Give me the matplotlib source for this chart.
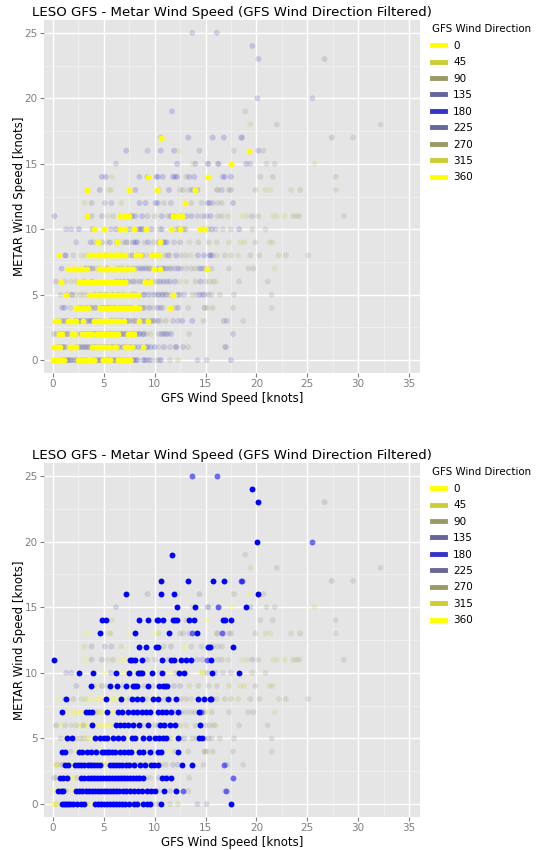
import matplotlib
matplotlib.use("Agg")
import matplotlib.pyplot as plt
import numpy as np
from matplotlib.colors import LinearSegmentedColormap
from matplotlib.lines import Line2D

title = "LESO GFS - Metar Wind Speed (GFS Wind Direction Filtered)"
x_label = "GFS Wind Speed [knots]"
y_label = "METAR Wind Speed [knots]"
legend_title = "GFS Wind Direction"
legend_dirs = [0, 45, 90, 135, 180, 225, 270, 315, 360]

# GFS wind speed values per METAR wind speed, wind from the north (~0/360 deg)
north = {
    0: [0.0, 0.2, 0.4, 0.6, 0.9, 1.1, 2.5, 2.7, 3.1, 3.4, 3.6, 4.0, 4.9, 5.2, 5.6, 6.4, 6.7, 7.0, 7.3, 7.6],
    1: [0.1, 0.4, 0.7, 1.7, 2.0, 2.3, 3.8, 4.2, 4.5, 4.8, 5.1, 5.5, 6.0, 6.2, 7.1, 7.4, 7.8, 8.9],
    2: [0.6, 0.9, 1.9, 2.1, 2.9, 3.2, 3.5, 3.8, 4.3, 4.6, 4.9, 5.2, 5.5, 5.8, 6.1, 6.4, 7.4, 7.7, 8.0],
    3: [0.2, 0.5, 1.5, 1.7, 2.0, 2.3, 3.0, 4.0, 4.4, 4.7, 5.0, 5.3, 5.6, 5.9, 6.2, 6.5, 7.0, 8.5, 9.3],
    4: [2.3, 2.5, 2.8, 3.1, 3.4, 4.6, 4.9, 5.2, 5.5, 5.8, 6.1, 6.4, 6.7, 7.0, 7.3, 7.6, 7.9, 8.2, 8.5, 11.5],
    5: [1.3, 3.6, 3.9, 4.2, 4.5, 4.8, 5.1, 5.4, 5.7, 6.0, 6.3, 6.6, 6.9, 7.2, 7.5, 7.8, 8.1, 8.4, 11.8],
    6: [0.75, 2.6, 2.9, 3.2, 3.5, 3.8, 4.1, 4.4, 4.7, 5.0, 5.3, 5.6, 5.9, 6.2, 6.5, 6.8, 7.1, 9.0, 9.5],
    7: [1.5, 2.0, 2.3, 2.6, 2.9, 3.3, 4.5, 4.8, 5.1, 5.4, 5.7, 6.0, 6.3, 6.6, 6.9, 7.2, 7.5, 7.9, 9.9, 10.5, 15.1],
    8: [0.6, 3.5, 4.0, 4.4, 4.7, 5.0, 5.3, 5.6, 5.9, 6.2, 6.5, 6.8, 7.1, 8.2, 8.6, 9.7, 10.1, 10.4],
    9: [4.4, 6.25, 10.5],
    10: [4.05, 5.0, 6.6, 7.1, 8.0, 9.1, 11.6, 12.5, 14.5, 14.9],
    11: [3.3, 6.6, 7.1, 7.5, 11.8, 12.3, 12.7],
    12: [13.0],
    13: [3.3, 7.5, 10.2, 14.0],
    14: [9.3, 15.2],
    15: [17.5],
    16: [19.3],
    17: [10.6],
}

# GFS wind speed values per METAR wind speed, wind from the south (~180 deg)
south = {
    0: [0.85, 1.1, 1.3, 1.5, 1.7, 2.0, 2.4, 2.8, 3.1, 4.1, 4.4, 4.7, 5.0, 5.3, 5.6, 5.9, 6.2, 6.5, 6.8, 7.1, 7.5, 8.0, 8.3, 8.9, 9.2, 9.5, 10.6, 17.5],
    1: [0.5, 0.8, 1.0, 2.3, 2.6, 2.9, 3.2, 3.5, 3.8, 4.1, 4.4, 4.7, 5.0, 5.3, 5.6, 5.9, 6.2, 6.5, 6.9, 7.2, 7.6, 8.0, 8.4, 8.8, 9.2, 9.6, 10.0, 10.9, 12.1],
    2: [0.7, 1.0, 1.4, 2.8, 3.1, 3.4, 3.7, 4.0, 4.3, 4.6, 4.9, 5.2, 5.5, 5.8, 6.1, 6.4, 6.7, 7.0, 7.3, 7.6, 7.9, 8.2, 8.5, 8.9, 10.7, 11.1, 11.6],
    3: [1.2, 1.5, 2.2, 2.5, 2.8, 3.1, 3.4, 3.7, 4.0, 4.3, 4.6, 5.6, 5.9, 6.2, 6.5, 6.8, 7.2, 7.5, 8.0, 8.6, 9.0, 9.6, 9.9, 10.3, 12.7, 13.7],
    4: [0.9, 1.15, 2.6, 2.9, 3.3, 3.7, 4.2, 4.8, 5.0, 5.3, 5.5, 5.8, 6.1, 6.6, 7.0, 7.4, 7.7, 8.5, 8.9, 9.5, 10.3, 10.6, 12.3],
    5: [1.35, 1.9, 4.1, 4.6, 5.0, 5.3, 5.9, 6.4, 6.9, 7.8, 8.1, 8.9, 9.4, 10.0, 10.4, 10.8, 11.1, 12.3, 14.4, 14.7],
    6: [3.8, 6.2, 6.6, 7.0, 7.4, 7.9, 8.5, 9.35, 10.55, 10.9, 11.5, 12.0, 14.5],
    7: [0.85, 3.2, 3.5, 3.8, 5.3, 6.4, 6.8, 7.4, 7.9, 8.3, 8.8, 9.1, 9.5, 10.3, 10.7, 11.1, 11.6, 12.3, 14.4],
    8: [1.25, 5.2, 6.7, 7.8, 8.3, 8.75, 9.8, 10.3, 11.3, 12.1, 14.25, 14.85, 15.4, 15.5],
    9: [3.7, 5.6, 6.3, 7.2, 7.9, 8.1, 8.3, 9.35, 10.4, 10.8, 11.0, 11.2],
    10: [2.55, 3.9, 6.2, 7.5, 8.4, 8.6, 8.8, 9.7, 10.7, 12.4, 12.9, 15.6, 18.3],
    11: [0.15, 7.6, 7.8, 8.1, 8.75, 10.7, 11.6, 11.9, 12.6, 13.1, 13.6, 15.5],
    12: [8.5, 9.1, 10.1, 10.3, 15.2, 15.4, 17.7],
    13: [4.6, 8.1, 11.4, 14.2],
    14: [4.8, 5.2, 8.5, 9.3, 10.2, 10.3, 10.8, 11.8, 12.0, 12.2, 13.4, 13.9, 16.7, 16.9, 17.5],
    15: [12.2, 14.0, 19.0],
    16: [7.2, 10.6, 11.9, 20.2],
    17: [10.6, 13.3, 15.7, 16.8],
    19: [11.7],
    20: [20.1],
    23: [20.2],
    24: [19.6],
}

# remaining observations: METAR speed -> (GFS speed, GFS direction)
other = {
    0: [(0.3, 80), (1.4, 100), (1.8, 110), (2.2, 130), (3.3, 90), (4.5, 110), (4.8, 100), (6.0, 100), (7.9, 140), (8.2, 220), (9.0, 230), (9.7, 100), (10.2, 110), (10.5, 220), (11.5, 100), (12.3, 80), (14.2, 220), (15.1, 220)],
    1: [(1.1, 220), (1.3, 100), (2.8, 100), (3.1, 110), (3.4, 100), (5.2, 90), (5.9, 80), (6.3, 100), (7.6, 110), (9.3, 140), (10.4, 100), (11.5, 230), (12.1, 230), (12.8, 205), (13.3, 100), (16.9, 100), (17.0, 155)],
    2: [(0.1, 100), (0.3, 110), (1.2, 90), (1.5, 100), (2.4, 100), (4.0, 110), (6.7, 120), (7.0, 100), (8.5, 130), (8.9, 140), (9.2, 100), (9.6, 80), (10.4, 230), (10.9, 225), (11.3, 140), (13.4, 100), (17.7, 155)],
    3: [(0.4, 100), (0.9, 140), (1.0, 80), (2.6, 100), (3.5, 110), (3.8, 130), (5.0, 80), (7.4, 70), (7.8, 90), (8.2, 100), (8.9, 110), (9.5, 70), (10.0, 80), (10.6, 100), (11.1, 110), (11.8, 140), (12.3, 220), (14.8, 100), (16.8, 205), (17.1, 220), (18.7, 100)],
    4: [(1.7, 100), (3.8, 80), (4.1, 90), (8.8, 100), (9.2, 80), (9.9, 110), (10.8, 100), (12.0, 100), (13.3, 110), (14.9, 220), (15.0, 80), (15.2, 70), (15.7, 100), (17.7, 100), (21.5, 90)],
    5: [(0.75, 100), (1.8, 90), (2.3, 80), (2.7, 100), (3.0, 80), (3.3, 70), (9.0, 140), (9.7, 100), (10.3, 110), (10.7, 130), (11.2, 90), (11.5, 100), (12.5, 140), (12.9, 220), (13.7, 100), (14.1, 110), (14.9, 220), (15.3, 220), (15.6, 100), (16.4, 100), (17.8, 110), (21.5, 100)],
    6: [(0.3, 220), (1.2, 100), (1.8, 80), (2.3, 90), (3.0, 140), (7.6, 80), (8.1, 100), (8.8, 110), (10.0, 100), (10.3, 120), (11.2, 140), (12.5, 80), (13.1, 70), (14.0, 100), (15.0, 100), (15.4, 90), (15.8, 100), (16.0, 60), (18.3, 100), (21.1, 100)],
    7: [(3.9, 80), (4.2, 100), (4.6, 60), (8.6, 140), (9.3, 100), (9.7, 70), (10.9, 130), (11.4, 100), (12.0, 220), (12.6, 140), (13.1, 100), (13.6, 110), (14.0, 100), (14.6, 210), (14.9, 220), (15.6, 110), (17.3, 100), (19.2, 100), (19.7, 110), (21.8, 50)],
    8: [(1.2, 140), (2.0, 100), (2.8, 70), (3.2, 60), (7.5, 90), (9.2, 80), (11.0, 100), (11.5, 90), (12.6, 110), (13.1, 100), (13.6, 70), (15.7, 140), (16.1, 90), (16.9, 100), (17.5, 80), (18.2, 60), (19.4, 100), (20.3, 100), (22.2, 80), (22.9, 100), (25.1, 100)],
    9: [(2.3, 220), (4.0, 100), (4.8, 140), (5.3, 80), (6.9, 100), (7.4, 80), (9.0, 100), (9.9, 110), (11.9, 130), (12.5, 140), (13.4, 70), (14.3, 100), (15.3, 100), (16.1, 90), (17.3, 70), (18.4, 50), (18.8, 55), (19.9, 100), (21.3, 60), (21.6, 70)],
    10: [(1.3, 220), (1.8, 140), (5.7, 220), (8.7, 100), (10.5, 110), (12.1, 100), (13.1, 70), (14.7, 60), (15.2, 220), (16.0, 220), (16.7, 100), (17.5, 110), (19.6, 100), (20.9, 90)],
    11: [(3.8, 220), (4.8, 140), (5.4, 70), (5.9, 100), (9.3, 130), (10.0, 100), (11.3, 110), (14.2, 220), (14.7, 140), (15.1, 205), (16.2, 100), (16.6, 100), (17.2, 80), (18.6, 50), (19.1, 60), (19.6, 225), (20.2, 100), (21.6, 50), (22.0, 60), (22.8, 50), (23.6, 80), (23.9, 70), (24.2, 100), (28.6, 100)],
    12: [(3.1, 60), (3.8, 220), (5.1, 140), (5.75, 220), (6.7, 60), (10.9, 100), (11.6, 140), (13.6, 100), (14.6, 100), (15.7, 220), (16.2, 100), (16.6, 110)],
    13: [(5.5, 60), (5.7, 70), (10.4, 70), (12.5, 100), (12.8, 110), (13.4, 120), (13.7, 200), (16.1, 100), (16.2, 90), (16.6, 210), (17.3, 100), (17.5, 230), (19.9, 100), (20.9, 60), (21.4, 50), (23.4, 80), (24.3, 100), (27.8, 80)],
    14: [(5.8, 60), (13.1, 100), (20.4, 100), (21.6, 110), (27.8, 100)],
    15: [(6.2, 220), (13.7, 60), (15.2, 140), (15.3, 225), (16.2, 145), (16.3, 220), (19.4, 225), (21.0, 100), (21.8, 110), (25.7, 50)],
    16: [(9.3, 225), (12.3, 50), (14.4, 220), (17.8, 100), (20.7, 110)],
    17: [(18.5, 205), (18.6, 155), (27.4, 230), (29.5, 100)],
    18: [(19.4, 60), (22.0, 110), (32.2, 100)],
    19: [(18.9, 100)],
    20: [(25.5, 205)],
    23: [(26.7, 225)],
    25: [(13.7, 205), (16.1, 155)],
}

# ---- flatten into observation arrays ----
gfs_speed, metar_speed, gfs_dir = [], [], []
for m, xs in north.items():
    for x in xs:
        gfs_speed.append(x); metar_speed.append(m); gfs_dir.append(0)
for m, xs in south.items():
    for x in xs:
        gfs_speed.append(x); metar_speed.append(m); gfs_dir.append(180)
for m, pts in other.items():
    for x, d in pts:
        gfs_speed.append(x); metar_speed.append(m); gfs_dir.append(d)
gfs_speed = np.array(gfs_speed, float)
metar_speed = np.array(metar_speed, float)
gfs_dir = np.array(gfs_dir, float)

node_colors = ["#FFFF00", "#CCCC33", "#999966", "#666699", "#3333CC",
               "#666699", "#999966", "#CCCC33", "#FFFF00"]
cmap = LinearSegmentedColormap.from_list("dir", node_colors)


def ang_dist(d, target):
    return np.abs((d - target + 180) % 360 - 180)


panels = [
    dict(target=0, hi_color="#FFFF00", top=20, bottom=373, leg_top=17),
    dict(target=180, hi_color="#0000FF", top=463, bottom=817, leg_top=460),
]

W, H = 543, 850
fig = plt.figure(figsize=(W / 100, H / 100), dpi=100)

for p in panels:
    ax = fig.add_axes([44 / W, 1 - p["bottom"] / H, 376 / W, (p["bottom"] - p["top"]) / H])
    ax.set_facecolor("#E5E5E5")
    for s in ax.spines.values():
        s.set_visible(False)
    ax.set_xlim(-0.88, 36.08)
    ax.set_ylim(-0.98, 25.98)
    ax.set_xticks(np.arange(0, 36, 5))
    ax.set_yticks(np.arange(0, 26, 5))
    ax.set_xticks(np.arange(2.5, 36, 5), minor=True)
    ax.set_yticks(np.arange(2.5, 26, 5), minor=True)
    ax.grid(which="major", color="white", lw=1.0)
    ax.grid(which="minor", color="#F2F2F2", lw=0.5)
    ax.set_axisbelow(True)
    ax.tick_params(which="major", color="#7F7F7F", length=3, width=0.8,
                   labelsize=7.5, labelcolor="#7F7F7F", pad=1.5)
    ax.tick_params(which="minor", length=0)

    d = ang_dist(gfs_dir, p["target"])
    faint = d > 35
    semi = (d > 15) & (d <= 35)
    hi = d <= 15
    cols = cmap(gfs_dir / 360.0)
    ax.scatter(gfs_speed[faint], metar_speed[faint], s=18, c=cols[faint],
               alpha=0.2, linewidths=0)
    ax.scatter(gfs_speed[semi], metar_speed[semi], s=18,
               c=p["hi_color"] if p["target"] == 180 else cols[semi],
               alpha=0.55, linewidths=0)
    ax.scatter(gfs_speed[hi], metar_speed[hi], s=18, c=p["hi_color"],
               alpha=1.0, linewidths=0)

    ax.set_title(title, fontsize=9.6, pad=3)
    ax.set_xlabel(x_label, fontsize=8.5, labelpad=2)
    ax.set_ylabel(y_label, fontsize=8.5, labelpad=-1)

    handles = [Line2D([0], [0], color=cmap(v / 360.0), lw=3.5) for v in legend_dirs]
    fig.legend(handles, [str(v) for v in legend_dirs], title=legend_title,
               loc="upper left", bbox_to_anchor=(425 / W, 1 - p["leg_top"] / H),
               frameon=False, fontsize=7.5, title_fontsize=7.4,
               handlelength=1.2, handletextpad=0.8, labelspacing=0.62,
               alignment="left", borderaxespad=0.3)

fig.savefig("out.png", dpi=100)
